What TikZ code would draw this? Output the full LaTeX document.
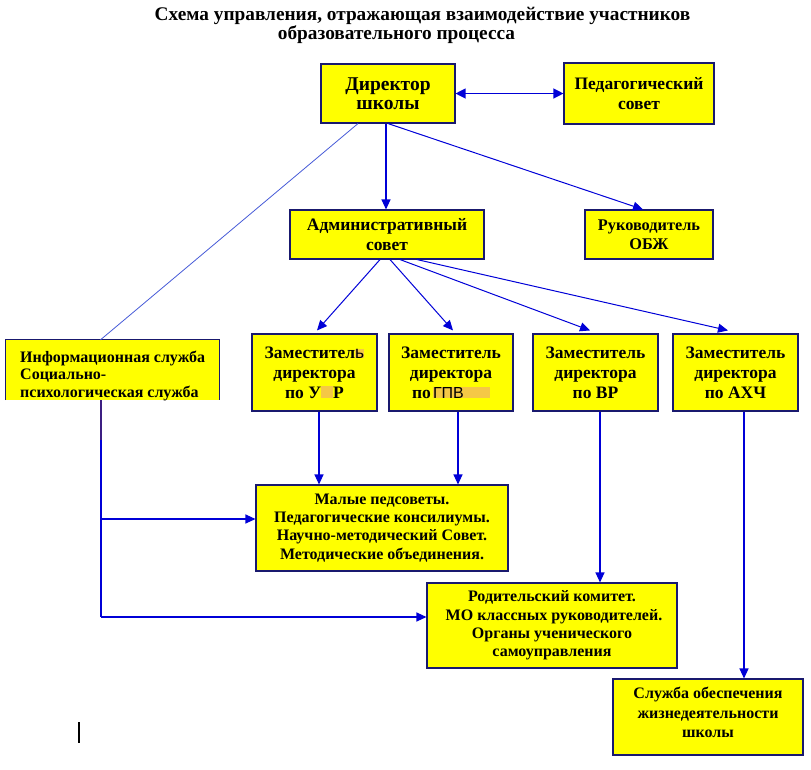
\documentclass[tikz,border=0pt]{standalone}
\usepackage{fontspec}
\setmainfont{Liberation Serif}
\setsansfont{Liberation Sans}
\usetikzlibrary{arrows.meta}
\definecolor{boxy}{RGB}{255,255,0}
\definecolor{bord}{RGB}{25,25,110}
\definecolor{arr}{RGB}{0,0,215}
\definecolor{thinblue}{RGB}{70,90,215}
\definecolor{hl}{RGB}{245,200,70}
\definecolor{purp}{RGB}{60,30,130}
\begin{document}
\begin{tikzpicture}[x=1pt,y=-1pt,
  box/.style={draw=bord, line width=1.1pt, fill=boxy, inner sep=0pt, align=center},
  fDir/.style={font=\fontsize{19.5}{19.5}\selectfont\bfseries},
  fPed/.style={font=\fontsize{17.5}{20}\selectfont\bfseries},
  fObzh/.style={font=\fontsize{16.3}{19}\selectfont\bfseries},
  fZam/.style={font=\fontsize{17.5}{20}\selectfont\bfseries},
  fC/.style={font=\fontsize{16}{18.2}\selectfont\bfseries},
  fSlu/.style={font=\fontsize{16}{19.5}\selectfont\bfseries},
  conn/.style={draw=arr, line width=1.2pt, -{Triangle[length=10pt,width=9pt]}},
  dconn/.style={draw=arr, line width=1.2pt, {Triangle[length=10pt,width=10pt]}-{Triangle[length=10pt,width=10pt]}},
  plain/.style={draw=arr, line width=1.2pt}
]
\useasboundingbox (0,0) rectangle (811,769);

% title
\node[anchor=base, font=\fontsize{19.3}{22}\selectfont\bfseries, inner sep=0pt] (t1) at (422.5,20.5)
  {Схема управления, отражающая взаимодействие участников};
\node[anchor=base, font=\fontsize{19.3}{22}\selectfont\bfseries, inner sep=0pt] (t2) at (396.5,39)
  {образовательного процесса};

% boxes
\node[box, fDir, minimum width=134pt, minimum height=59pt] (dir) at (388,93.5) {Директор\\школы};
\node[box, fPed, minimum width=150pt, minimum height=61pt] (ped) at (639,93.5) {Педагогический\\совет};
\node[box, fPed, minimum width=194pt, minimum height=49pt] (adm) at (387,234.5) {Административный\\совет};
\node[box, fObzh, minimum width=128pt, minimum height=49pt] (obzh) at (649,234.5) {Руководитель\\ОБЖ};

\node[box, fZam, minimum width=125pt, minimum height=77pt] (zam1) at (314.5,372.5)
  {Заместител{\fboxsep=0pt\colorbox{hl}{\mdseries\sffamily ь}}\\директора\\по У{\fboxsep=0pt\colorbox{hl}{\rule{0pt}{12pt}\hspace{12pt}}}Р};
\node[box, fZam, minimum width=124pt, minimum height=77pt] (zam2) at (451,372.5)
  {Заместитель\\директора\\по\hspace{2pt}{\fboxsep=0pt\colorbox{hl}{\mdseries\sffamily\fontsize{16}{16}\selectfont ГПВ\hspace{26pt}}}};
\node[box, fZam, minimum width=125pt, minimum height=77pt] (zam3) at (595.5,372.5) {Заместитель\\директора\\по ВР};
\node[box, fZam, minimum width=125pt, minimum height=77pt] (zam4) at (735.5,372.5) {Заместитель\\директора\\по АХЧ};

% information service box (open at the bottom, text cut)
\node[fill=boxy, inner sep=0pt, minimum width=213pt, minimum height=60pt] (info) at (112.5,370) {};
\begin{scope}
  \clip (info.north west) rectangle (info.south east);
  \node[anchor=north west, font=\fontsize{16}{17.6}\selectfont\bfseries, align=left, inner sep=0pt] (infotext) at (20,350.5)
    {Информационная служба\\Социально-\\психологическая служба};
\end{scope}
\draw[bord, line width=1.1pt] (info.south west) -- (info.north west) -- (info.north east) -- (info.south east);

\node[box, fC, minimum width=252pt, minimum height=86pt] (mal) at (382,528)
  {Малые педсоветы.\\Педагогические консилиумы.\\Научно-методический Совет.\\Методические объединения.};
\node[box, fC, minimum width=250pt, minimum height=85pt] (rod) at (552,625.5)
  {Родительский комитет.\\\ МО классных руководителей.\\Органы ученического\\самоуправления};
\node[box, minimum width=190pt, minimum height=76pt] (slu) at (708,717) {};
\node[fSlu, align=center, inner sep=0pt] (slutext) at (708,712.5)
  {Служба обеспечения\\жизнедеятельности\\школы};

% connectors from the director
\draw[dconn] (dir.east) -- (dir.east -| ped.west);
\draw[conn] ([xshift=-2pt]dir.south) -- ([xshift=-1pt]adm.north);
\draw[conn, line width=1pt] ([xshift=0pt]dir.south) -- ([xshift=-6pt]obzh.north);
\draw[draw=thinblue, line width=0.8pt] ([xshift=-30pt]dir.south) -- ([xshift=-12pt]info.north);

% connectors from the administrative council
\draw[conn, line width=1pt] ([xshift=-7pt]adm.south) -- ([xshift=2.5pt,yshift=3pt]zam1.north);
\draw[conn, line width=1pt] ([xshift=3pt]adm.south) -- ([xshift=2pt,yshift=3pt]zam2.north);
\draw[conn, line width=1pt] ([xshift=13pt]adm.south) -- ([xshift=-5.5pt,yshift=3pt]zam3.north);
\draw[conn, line width=1pt] ([xshift=30pt]adm.south) -- ([xshift=-7.5pt,yshift=3pt]zam4.north);

% deputies down
\draw[conn] ([xshift=4.5pt]zam1.south) -- ([xshift=4.5pt]zam1.south |- mal.north);
\draw[conn] ([xshift=7pt]zam2.south) -- ([xshift=7pt]zam2.south |- mal.north);
\draw[conn] ([xshift=4.5pt]zam3.south) -- ([xshift=4.5pt]zam3.south |- rod.north);
\draw[conn] ([xshift=8.5pt]zam4.south) -- ([xshift=8.5pt]zam4.south |- slu.north);

% information service line
\coordinate (v1) at (101,519);
\coordinate (v2) at (101,617);
\draw[purp, line width=2.2pt] ([xshift=-11.5pt]info.south) -- ++(0,40);
\draw[plain] ([xshift=-11.5pt,yshift=-40pt]info.south) -- (v2);
\draw[conn] (v1) -- (v1 -| mal.west);
\draw[conn] (v2) -- (v2 -| rod.west);

% stray mark
\draw[black, line width=1.6pt] (79,722) -- (79,743);
\end{tikzpicture}
\end{document}
